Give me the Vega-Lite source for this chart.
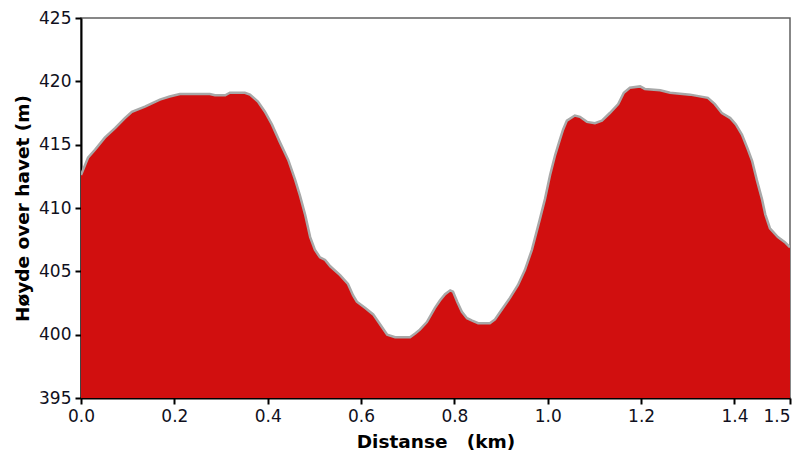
{
  "$schema": "https://vega.github.io/schema/vega-lite/v6.json",
  "autosize": "none",
  "width": 709,
  "height": 380,
  "padding": {"left": 81, "top": 18, "right": 10, "bottom": 73},
  "background": "white",
  "config": {
    "font": "DejaVu Sans",
    "view": {"stroke": "#606060", "strokeWidth": 1.5},
    "axis": {
      "grid": false,
      "domainColor": "black",
      "domainWidth": 2,
      "tickColor": "black",
      "tickWidth": 2,
      "tickSize": 6,
      "labelFont": "DejaVu Sans",
      "labelFontSize": 17,
      "labelColor": "#101020",
      "titleFont": "DejaVu Sans",
      "titleFontSize": 18.5,
      "titleFontWeight": "bold",
      "titleColor": "black"
    }
  },
  "data": {
    "values": [
      {"km": 0.0, "h": 412.6},
      {"km": 0.015, "h": 413.97},
      {"km": 0.03, "h": 414.6},
      {"km": 0.051, "h": 415.55},
      {"km": 0.073, "h": 416.3},
      {"km": 0.094, "h": 417.1},
      {"km": 0.109, "h": 417.6},
      {"km": 0.137, "h": 418.0},
      {"km": 0.169, "h": 418.56},
      {"km": 0.19, "h": 418.8},
      {"km": 0.212, "h": 419.0},
      {"km": 0.276, "h": 419.0},
      {"km": 0.287, "h": 418.9},
      {"km": 0.309, "h": 418.9},
      {"km": 0.319, "h": 419.1},
      {"km": 0.351, "h": 419.1},
      {"km": 0.362, "h": 418.95},
      {"km": 0.379, "h": 418.4},
      {"km": 0.394, "h": 417.6},
      {"km": 0.409, "h": 416.6},
      {"km": 0.426, "h": 415.2},
      {"km": 0.444, "h": 413.8},
      {"km": 0.459, "h": 412.2},
      {"km": 0.469, "h": 411.0},
      {"km": 0.48, "h": 409.5},
      {"km": 0.491, "h": 407.7},
      {"km": 0.501, "h": 406.7},
      {"km": 0.512, "h": 406.1},
      {"km": 0.523, "h": 405.9},
      {"km": 0.534, "h": 405.4},
      {"km": 0.555, "h": 404.7},
      {"km": 0.572, "h": 404.0},
      {"km": 0.583, "h": 403.1},
      {"km": 0.591, "h": 402.6},
      {"km": 0.609, "h": 402.1},
      {"km": 0.626, "h": 401.6},
      {"km": 0.641, "h": 400.8},
      {"km": 0.656, "h": 400.0},
      {"km": 0.673, "h": 399.8},
      {"km": 0.705, "h": 399.8},
      {"km": 0.716, "h": 400.1},
      {"km": 0.726, "h": 400.4},
      {"km": 0.741, "h": 401.0},
      {"km": 0.758, "h": 402.1},
      {"km": 0.769, "h": 402.7},
      {"km": 0.78, "h": 403.2},
      {"km": 0.791, "h": 403.5},
      {"km": 0.797, "h": 403.4},
      {"km": 0.806, "h": 402.6},
      {"km": 0.816, "h": 401.8},
      {"km": 0.827, "h": 401.3},
      {"km": 0.838, "h": 401.1},
      {"km": 0.851, "h": 400.9},
      {"km": 0.876, "h": 400.9},
      {"km": 0.887, "h": 401.2},
      {"km": 0.902, "h": 402.0},
      {"km": 0.919, "h": 402.9},
      {"km": 0.936, "h": 403.9},
      {"km": 0.951, "h": 405.1},
      {"km": 0.966, "h": 406.7},
      {"km": 0.983, "h": 409.1},
      {"km": 0.994, "h": 410.7},
      {"km": 1.005, "h": 412.6},
      {"km": 1.016, "h": 414.2},
      {"km": 1.026, "h": 415.4},
      {"km": 1.033, "h": 416.2},
      {"km": 1.041, "h": 416.9},
      {"km": 1.058, "h": 417.3},
      {"km": 1.069, "h": 417.2},
      {"km": 1.084, "h": 416.8},
      {"km": 1.101, "h": 416.7},
      {"km": 1.116, "h": 416.9},
      {"km": 1.133, "h": 417.5},
      {"km": 1.151, "h": 418.2},
      {"km": 1.163, "h": 419.1},
      {"km": 1.176, "h": 419.5},
      {"km": 1.198, "h": 419.6},
      {"km": 1.208, "h": 419.4},
      {"km": 1.241, "h": 419.3},
      {"km": 1.262, "h": 419.1},
      {"km": 1.305, "h": 418.95},
      {"km": 1.343, "h": 418.7},
      {"km": 1.358, "h": 418.2},
      {"km": 1.373, "h": 417.5},
      {"km": 1.391, "h": 417.1},
      {"km": 1.403, "h": 416.6},
      {"km": 1.416, "h": 415.8},
      {"km": 1.429, "h": 414.6},
      {"km": 1.438, "h": 413.7},
      {"km": 1.448, "h": 412.2},
      {"km": 1.459, "h": 410.7},
      {"km": 1.466, "h": 409.5},
      {"km": 1.476, "h": 408.4},
      {"km": 1.493, "h": 407.7},
      {"km": 1.508, "h": 407.3},
      {"km": 1.519, "h": 406.9}
    ]
  },
  "encoding": {
    "x": {
      "field": "km",
      "type": "quantitative",
      "scale": {"domain": [0, 1.519], "nice": false, "zero": false},
      "axis": {
        "title": "Distanse\u00a0\u00a0\u00a0(km)",
        "values": [0, 0.2, 0.4, 0.6, 0.8, 1.0, 1.2, 1.4, 1.519],
        "format": ".1f",
        "labelAlign": {"expr": "datum.value > 1.5 ? 'right' : 'center'"},
        "labelPadding": 4,
        "titlePadding": 8,
        "labelFlush": false,
        "labelOverlap": false
      }
    },
    "y": {
      "field": "h",
      "type": "quantitative",
      "scale": {"domain": [395, 425], "nice": false, "zero": false},
      "axis": {
        "title": "Høyde over havet (m)",
        "values": [395, 400, 405, 410, 415, 420, 425],
        "labelPadding": 4,
        "titlePadding": 6,
        "labelFlush": false,
        "labelOverlap": false
      }
    }
  },
  "layer": [
    {"mark": {"type": "area", "color": "#d10f0f", "clip": true, "interpolate": "linear"}},
    {"mark": {"type": "line", "color": "#a8a8a8", "strokeWidth": 2.5, "clip": true}}
  ]
}
